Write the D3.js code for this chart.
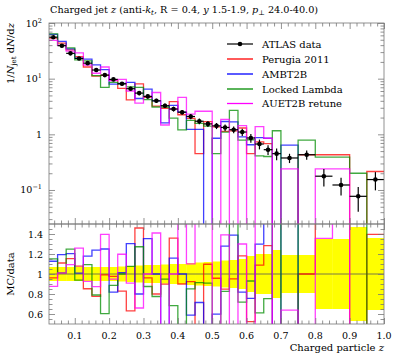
<!DOCTYPE html>
<html><head><meta charset="utf-8">
<script src="https://cdn.jsdelivr.net/npm/d3@7"></script>
<style>
body{margin:0;background:#fff}
svg{display:block}
text{font-family:"DejaVu Serif",serif;fill:#000}
</style></head>
<body><svg id="chart" width="397" height="358"></svg>
<script>
// ---- data ----
const zEdges = [0.025,0.05,0.075,0.1,0.125,0.15,0.175,0.2,0.225,0.25,0.275,0.3,0.325,0.35,0.375,0.4,0.425,0.45,0.475,0.5,0.525,0.55,0.575,0.6,0.625,0.65,0.675,0.7,0.75,0.8,0.85,0.9,0.95,1.0];
const dataValues = [55.6,39.1,28.5,23.1,19.0,14.3,11.6,9.7,8.1,6.6,5.5,4.8,4.0,3.27,2.85,2.5,2.09,1.72,1.54,1.42,1.33,1.21,1.10,0.86,0.67,0.53,0.45,0.376,0.43,0.177,0.123,0.077,0.154];
const dataRelErr = [0.07,0.07,0.07,0.07,0.07,0.07,0.07,0.07,0.075,0.08,0.085,0.09,0.09,0.095,0.1,0.1,0.11,0.115,0.12,0.125,0.135,0.14,0.15,0.18,0.2,0.2,0.24,0.19,0.19,0.35,0.35,0.47,0.36];
const perugia2011 = [53.4,43.4,32.9,24.9,16.2,11.1,11.5,9.46,6.72,4.16,8.03,4.61,3.2,2.94,3.87,2.25,1.93,0.45,1.69,1.36,1.13,1.15,1.30,0.45,0.73,0.68,0,0,0.43,0.43,0.43,0,0.215];
const ambt2b = [62.7,46.7,34.3,23.3,22.4,17.7,14.5,7.95,8.2,8.6,4.4,6.5,4.0,1.6,3.3,2.5,1.23,1.23,0,0.85,1.7,1.68,0.9,0.65,0.87,0.85,0,0.64,0,0,0,0,0];
const lockedLambda = [64,39.5,35.6,21.7,20.8,11.3,7.0,8.6,8.1,7.1,7.0,4.2,3.1,3.1,1.95,1.2,1.78,1.57,1.4,0.45,1.1,2.7,0.79,0.8,0.41,0.40,1.16,0,0.79,0.39,0.39,0.2,0];
const auet2bRetune = [48.7,39.5,31.2,29.1,17.6,12.5,16.2,9.2,9.7,6.0,3.63,4.8,5.64,1.47,2.85,4.6,2.3,2.6,2.6,0,1.85,0,1.43,0,1.37,0.85,0,0.24,0,0.24,0.24,0,0];
const seriesNames = ["Perugia 2011","AMBT2B","Locked Lambda","AUET2B retune"];
const seriesColors = ["#ff0000","#0000ff","#008c00","#ff00ff"];
const xTickValues = [0.1,0.2,0.3,0.4,0.5,0.6,0.7,0.8,0.9,1.0];
const xTickLabels = ["0.1","0.2","0.3","0.4","0.5","0.6","0.7","0.8","0.9","1.0"];
const yLogTicks = [0.1,1,10,100];
const yLogLabels = [["10","\u22121"],["1",""],["10","1"],["10","2"]];
const ratioTicks = [0.6,0.8,1.0,1.2,1.4];
const ratioLabels = ["0.6","0.8","1","1.2","1.4"];

const series = [perugia2011, ambt2b, lockedLambda, auet2bRetune];

// ---- layout ----
const L = 49, R = 384, T = 23, M = 224, B = 324;
const svg = d3.select("#chart");
const x = d3.scaleLinear().domain([0.025,1.0]).range([L,R]);
const y = d3.scaleLog().domain([0.0245,100]).range([M,T]);
const yr = d3.scaleLinear().domain([0.5,1.5]).range([B,M]);

const defs = svg.append("defs");
defs.append("clipPath").attr("id","clipTop").append("rect").attr("x",L).attr("y",T).attr("width",R-L).attr("height",M-T);
defs.append("clipPath").attr("id","clipRat").append("rect").attr("x",L).attr("y",M).attr("width",R-L).attr("height",B-M);

const nb = dataValues.length;
function stepPts(vals, fy){
  const pts=[];
  for(let i=0;i<nb;i++){ const yy=fy(vals[i],i); pts.push([x(zEdges[i]),yy],[x(zEdges[i+1]),yy]); }
  return pts;
}
const line = d3.line();
const topY = v => v>0 ? y(v) : M+5;
const ratY = (v,i) => { const r=v/dataValues[i]; return r>0 ? Math.max(M-5,Math.min(B+5,yr(r))) : B+5; };

// ---- ratio band ----
const gR = svg.append("g").attr("clip-path","url(#clipRat)");
gR.selectAll("rect.band").data(dataRelErr).join("rect")
  .attr("x",(d,i)=>x(zEdges[i])).attr("width",(d,i)=>x(zEdges[i+1])-x(zEdges[i])+0.3)
  .attr("y",d=>yr(1+d)).attr("height",d=>yr(1-d)-yr(1+d)).attr("fill","#ffff00");
gR.append("line").attr("x1",L).attr("x2",R).attr("y1",yr(1)).attr("y2",yr(1)).attr("stroke","#555").attr("stroke-width",0.8);
series.forEach((s,k)=>{
  gR.append("path").attr("d",line(stepPts(s,ratY)))
    .attr("fill","none").attr("stroke",seriesColors[k]).attr("stroke-width",1.3).attr("stroke-opacity",0.75);
});

// ---- top panel ----
const gT = svg.append("g").attr("clip-path","url(#clipTop)");
series.forEach((s,k)=>{
  gT.append("path").attr("d",line(stepPts(s,(v)=>topY(v))))
    .attr("fill","none").attr("stroke",seriesColors[k]).attr("stroke-width",1.3).attr("stroke-opacity",0.75);
});
const gD = gT.append("g");
dataValues.forEach((v,i)=>{
  const cx = x((zEdges[i]+zEdges[i+1])/2);
  gD.append("line").attr("x1",x(zEdges[i])).attr("x2",x(zEdges[i+1])).attr("y1",y(v)).attr("y2",y(v)).attr("stroke","#000").attr("stroke-width",1.2);
  gD.append("line").attr("x1",cx).attr("x2",cx).attr("y1",y(v*(1-dataRelErr[i]))).attr("y2",y(v*(1+dataRelErr[i]))).attr("stroke","#000").attr("stroke-width",1.2);
  gD.append("circle").attr("cx",cx).attr("cy",y(v)).attr("r",2.3).attr("fill","#000");
});

// ---- axes / ticks ----
const tickStyle = g => { g.select(".domain").remove(); g.selectAll("line").attr("stroke","#777").attr("stroke-width",0.8); g.selectAll("text").remove(); };
const xMinor = d3.range(0.04,1.0001,0.02).filter(v=>Math.abs(v*10-Math.round(v*10))>1e-6);
[[M,false],[T,true],[M,true],[B,false]].forEach(([yy,down])=>{
  const mk = () => down ? d3.axisBottom(x) : d3.axisTop(x);
  svg.append("g").attr("transform",`translate(0,${yy})`).call(mk().tickValues(xTickValues).tickSize(6)).call(tickStyle);
  svg.append("g").attr("transform",`translate(0,${yy})`).call(mk().tickValues(xMinor).tickSize(3.5)).call(tickStyle);
});
const logMinor = [];
[0.01,0.1,1,10].forEach(d=>{for(let m=2;m<=9;m++){const v=d*m; if(v>=0.0245&&v<=100) logMinor.push(v);}});
[[L,true],[R,false]].forEach(([xx,right])=>{
  const mk = () => right ? d3.axisRight(y) : d3.axisLeft(y);
  svg.append("g").attr("transform",`translate(${xx},0)`).call(mk().tickValues(yLogTicks).tickSize(6)).call(tickStyle);
  svg.append("g").attr("transform",`translate(${xx},0)`).call(mk().tickValues(logMinor).tickSize(3.5)).call(tickStyle);
  const mr = () => right ? d3.axisRight(yr) : d3.axisLeft(yr);
  svg.append("g").attr("transform",`translate(${xx},0)`).call(mr().tickValues(ratioTicks).tickSize(6)).call(tickStyle);
  svg.append("g").attr("transform",`translate(${xx},0)`).call(mr().tickValues(d3.range(0.55,1.5,0.05).filter(v=>Math.abs(v*5-Math.round(v*5))>1e-6)).tickSize(3.5)).call(tickStyle);
});
[[T,M],[M,B]].forEach(([a,b])=>svg.append("rect").attr("x",L).attr("y",a).attr("width",R-L).attr("height",b-a).attr("fill","none").attr("stroke","#777").attr("stroke-width",0.8));

// ---- labels ----
const fs = 9.5;
yLogTicks.forEach((v,i)=>{
  const t = svg.append("text").attr("x",42).attr("y",y(v)+3.5).attr("text-anchor","end").attr("font-size",fs);
  t.append("tspan").text(yLogLabels[i][0]);
  if(yLogLabels[i][1]) t.append("tspan").attr("dy",-4).attr("font-size",6.5).text(yLogLabels[i][1]);
});
ratioTicks.forEach((v,i)=>{
  svg.append("text").attr("x",43).attr("y",yr(v)+3.5).attr("text-anchor","end").attr("font-size",fs).text(ratioLabels[i]);
});
xTickValues.forEach((v,i)=>{
  svg.append("text").attr("x",x(v)).attr("y",339).attr("text-anchor","middle").attr("font-size",fs).text(xTickLabels[i]);
});
const xl = svg.append("text").attr("x",R).attr("y",351).attr("text-anchor","end").attr("font-size",10);
xl.append("tspan").text("Charged particle ");
xl.append("tspan").attr("font-style","italic").text("z");

const yl = svg.append("text").attr("transform","translate(14,23) rotate(-90)").attr("text-anchor","end").attr("font-size",10);
yl.append("tspan").text("1/");
yl.append("tspan").attr("font-style","italic").text("N");
yl.append("tspan").attr("font-size",7).attr("dy",2).text("jet");
yl.append("tspan").attr("dy",-2).text(" d");
yl.append("tspan").attr("font-style","italic").text("N");
yl.append("tspan").text("/d");
yl.append("tspan").attr("font-style","italic").text("z");
svg.append("text").attr("transform",`translate(14,${yr(1)}) rotate(-90)`).attr("text-anchor","middle").attr("font-size",10).text("MC/data");

const tt = svg.append("text").attr("x",50).attr("y",13).attr("font-size",9.7);
tt.append("tspan").text("Charged jet ");
tt.append("tspan").attr("font-style","italic").text("z");
tt.append("tspan").text(" (anti-");
tt.append("tspan").attr("font-style","italic").text("k");
tt.append("tspan").attr("font-style","italic").attr("font-size",7).attr("dy",2).text("t");
tt.append("tspan").attr("dy",-2).text(", R = 0.4, ");
tt.append("tspan").attr("font-style","italic").text("y");
tt.append("tspan").text(" 1.5-1.9, ");
tt.append("tspan").attr("font-style","italic").text("p");
tt.append("tspan").attr("font-size",7).attr("dy",2).text("\u22a5");
tt.append("tspan").attr("dy",-2).text(" 24.0-40.0)");

const legNames = ["ATLAS data"].concat(seriesNames);
const legColors = ["#000"].concat(seriesColors);
const legY = [44,59,74,89,103.5];
legNames.forEach((n,i)=>{
  svg.append("line").attr("x1",227).attr("x2",253).attr("y1",legY[i]).attr("y2",legY[i]).attr("stroke",legColors[i]).attr("stroke-width",i===0?1.2:1.3);
  if(i===0) svg.append("circle").attr("cx",240).attr("cy",legY[i]).attr("r",2.3).attr("fill","#000");
  svg.append("text").attr("x",262).attr("y",legY[i]+3.5).attr("font-size",10).text(n);
});
</script></body></html>
